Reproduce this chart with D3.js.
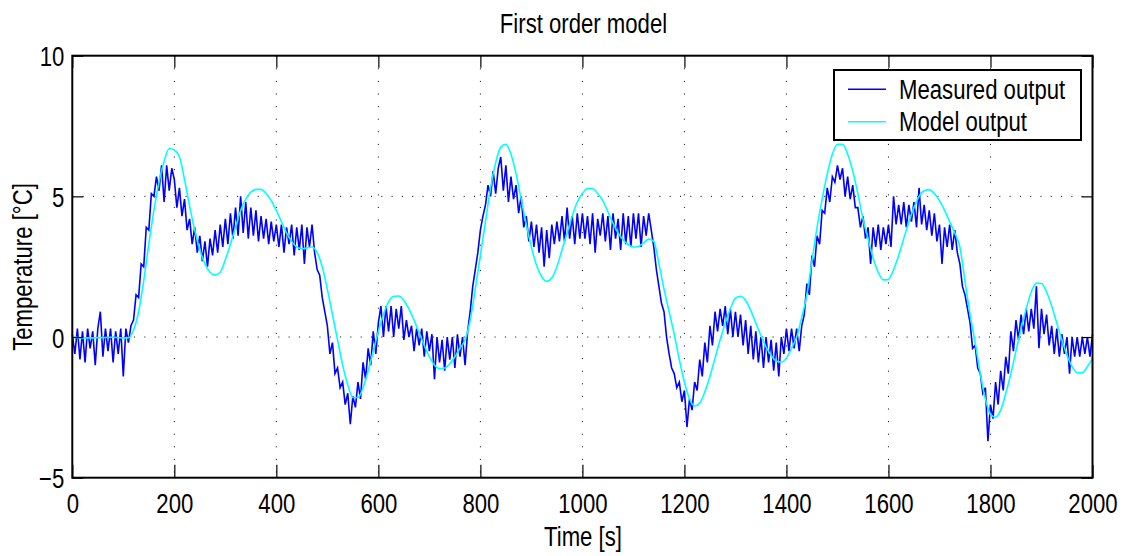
<!DOCTYPE html>
<html>
<head>
<meta charset="utf-8">
<script src="https://cdn.jsdelivr.net/npm/d3@7"></script>
<style>
  body { margin: 0; background: #fff; }
  #vis { width: 1130px; height: 556px; }
  text { font-family: "Liberation Sans", Arial, Helvetica, sans-serif; fill: #000; }
</style>
</head>
<body>
<div id="vis"></div>
<script>
// measured output, one sample every 5 s (0 .. 2000)
var measured = [
  0.1, -0.6, 0.3, -0.8, 0.2, -0.9, 0.3, -0.4, 0.2, -1.0, 0.3, 0.9, -0.7, 0.3, -0.5, 0.3, -0.9, 0.2, -0.6, 0.3,
  -1.4, 0.3, -0.2, 0.4, 0.6, 1.5, 1.4, 2.6, 2.5, 3.9, 3.8, 5.1, 5.0, 5.7, 5.2, 6.1, 4.8, 6.1, 5.2, 6.0,
  5.6, 4.6, 5.3, 4.3, 4.9, 3.8, 4.2, 3.3, 3.9, 3.0, 3.6, 2.7, 3.4, 2.5, 3.5, 2.9, 3.8, 3.0, 4.0, 3.2,
  4.2, 3.3, 4.4, 3.5, 4.6, 3.6, 5.0, 3.7, 4.8, 3.5, 4.6, 3.6, 4.5, 3.4, 4.3, 3.5, 4.2, 3.3, 4.1, 3.4,
  4.0, 3.2, 4.0, 3.0, 3.9, 3.3, 4.0, 2.9, 3.9, 3.1, 4.0, 2.6, 3.9, 3.2, 4.0, 3.0, 2.4, 2.2, 1.4, 0.9,
  0.4, -0.6, -0.2, -1.3, -1.1, -1.8, -1.6, -2.4, -2.0, -3.1, -2.1, -2.5, -1.6, -2.2, -0.9, -1.5, -0.4, -1.0, 0.2, -0.6,
  0.5, 1.1, 0.0, 1.1, 0.2, 1.1, 0.0, 1.0, 0.3, 1.1, -0.1, 0.6, 0.0, 0.4, -0.5, 0.3, -0.3, 0.3, -0.7, 0.2,
  -0.5, 0.1, -1.5, 0.0, -0.9, -0.1, -1.2, 0.0, -0.8, 0.0, -1.1, 0.1, -0.7, 0.0, -1.0, 0.2, 0.9, 1.8, 2.4, 3.0,
  3.8, 4.3, 4.7, 5.4, 5.0, 5.9, 5.1, 6.0, 6.4, 5.2, 6.1, 4.8, 5.7, 4.9, 5.4, 4.4, 5.0, 3.9, 4.3, 3.4,
  4.1, 3.2, 4.0, 3.0, 3.9, 2.5, 3.8, 2.8, 4.0, 3.3, 4.1, 3.4, 4.3, 3.4, 4.6, 3.5, 4.3, 3.3, 4.4, 3.5,
  4.4, 3.5, 4.3, 3.3, 4.4, 3.0, 4.2, 3.6, 4.4, 3.4, 4.3, 3.1, 4.4, 3.5, 4.2, 3.1, 4.4, 3.3, 4.3, 3.2,
  4.4, 3.5, 4.4, 3.2, 4.3, 3.6, 4.4, 3.8, 3.2, 2.4, 1.8, 1.2, 0.9, 0.0, -0.6, -1.1, -1.3, -1.8, -1.6, -2.3,
  -1.9, -3.2, -2.2, -2.6, -1.6, -1.9, -0.8, -1.4, -0.2, -0.9, 0.4, -0.3, 0.9, 0.2, 1.0, 0.4, 1.1, 0.1, 1.0, 0.0,
  0.9, 0.0, 0.8, -0.3, 0.6, -0.6, 0.4, -0.8, 0.2, -0.9, 0.0, -1.1, 0.0, -0.9, -0.1, -1.2, -0.2, -1.4, 0.0, -0.6,
  0.3, -0.5, 0.3, -0.4, 0.3, -0.5, 0.4, 0.8, 1.9, 1.5, 2.9, 2.5, 3.6, 3.3, 4.5, 4.4, 5.3, 4.8, 5.7, 5.5,
  6.1, 5.6, 6.0, 5.0, 5.7, 4.9, 5.4, 4.6, 4.6, 3.9, 4.3, 3.5, 3.9, 2.6, 3.9, 3.2, 4.0, 3.1, 3.9, 3.3,
  4.0, 3.2, 5.0, 4.0, 4.7, 4.0, 4.8, 3.9, 4.7, 4.1, 4.8, 3.9, 5.3, 4.0, 4.7, 3.8, 4.5, 3.6, 4.4, 3.4,
  4.0, 2.6, 3.9, 3.2, 4.0, 3.1, 3.8, 3.0, 2.6, 1.8, 1.5, 1.0, 0.5, -0.4, -0.3, -1.1, -1.3, -2.0, -1.8, -3.7,
  -2.4, -2.9, -1.6, -2.4, -1.2, -1.9, -0.7, -1.3, 0.2, -0.5, 0.6, -0.1, 0.8, 0.1, 1.0, 0.2, 1.0, 0.3, 1.8, -0.4,
  1.0, 0.1, 0.8, -0.3, 0.4, -0.6, 0.3, -0.7, 0.1, -0.6, 0.0, -1.3, 0.0, -0.7, 0.0, -0.7, 0.0, -0.6, 0.0, -0.7,
  0.1
];

// model output, one sample every 10 s (0 .. 2000)
var model = [
  0, -0.02, -0.03, -0.03, -0.03, -0.02, -0.02, -0.01, -0.01, -0.02,
  -0.03, -0.03, 0.25, 0.9, 2.0, 3.3, 4.5, 5.5, 6.25, 6.7,
  6.65, 6.4, 5.6, 4.65, 3.8, 3.1, 2.6, 2.3, 2.2, 2.3,
  2.75, 3.3, 3.9, 4.5, 4.9, 5.15, 5.25, 5.25, 5.1, 4.85,
  4.5, 4.1, 3.7, 3.4, 3.2, 3.14, 3.17, 3.2, 3.0, 2.5,
  1.7, 0.8, -0.1, -1.0, -1.7, -2.15, -2.15, -1.8, -1.2, -0.5,
  0.2, 0.8, 1.25, 1.45, 1.46, 1.3, 1.0, 0.6, 0.15, -0.3,
  -0.7, -1.0, -1.12, -1.1, -0.95, -0.7, -0.4, -0.1, 0.6, 1.7,
  2.9, 4.1, 5.3, 6.2, 6.75, 6.85, 6.5, 5.8, 4.9, 4.0,
  3.2, 2.55, 2.15, 1.98, 2.1, 2.5, 3.1, 3.7, 4.3, 4.8,
  5.1, 5.28, 5.28, 5.1, 4.85, 4.45, 4.05, 3.7, 3.45, 3.28,
  3.2, 3.22, 3.35, 3.48, 3.4, 2.6, 1.7, 0.9, 0.1, -0.8,
  -1.6, -2.2, -2.45, -2.35, -1.95, -1.4, -0.75, -0.1, 0.5, 1.0,
  1.38, 1.45, 1.3, 0.95, 0.5, 0.05, -0.35, -0.65, -0.85, -0.89,
  -0.75, -0.4, 0.0, 0.7, 1.5, 2.7, 3.9, 4.9, 5.8, 6.5,
  6.85, 6.85, 6.5, 5.9, 5.1, 4.2, 3.5, 2.8, 2.3, 2.03,
  2.05, 2.4, 2.9, 3.5, 4.1, 4.6, 5.0, 5.2, 5.24, 5.1,
  4.85, 4.5, 4.1, 3.7, 3.2, 2.0, 0.8, -0.2, -1.3, -2.2,
  -2.75, -2.85, -2.6, -2.0, -1.3, -0.5, 0.3, 1.0, 1.6, 1.92,
  1.9, 1.6, 1.1, 0.5, -0.1, -0.65, -1.05, -1.27, -1.27, -1.05,
  -0.77
];

var measured_dt = 5;
var model_dt = 10;

var x_ticks = [0, 200, 400, 600, 800, 1000, 1200, 1400, 1600, 1800, 2000];
var y_ticks = [-5, 0, 5, 10];

var series_names = ['Measured output', 'Model output'];
var series_colours = ['#0000ff', '#00ffff'];

var width = 1130;
var height = 556;

var margin = {
  top: 55.7,
  bottom: 78.3,
  left: 72.3,
  right: 37.5
};

var font_size = 27;
var squeeze = 0.82;   // narrow helvetica look

var svg = d3.select('#vis')
  .append('svg')
  .attr('width', width)
  .attr('height', height);

var x_scale = d3.scaleLinear()
  .domain([0, 2000])
  .range([margin.left, width - margin.right]);

var y_scale = d3.scaleLinear()
  .domain([-5, 10])
  .range([height - margin.bottom, margin.top]);

function narrow(sel) {
  sel.each(function() {
    var len = this.getComputedTextLength();
    d3.select(this)
      .attr('textLength', len * squeeze)
      .attr('lengthAdjust', 'spacingAndGlyphs');
  });
}

// dotted grid
svg.append('g')
  .attr('class', 'grid')
  .selectAll('line')
  .data(x_ticks.slice(1, -1))
  .enter()
  .append('line')
  .attr('x1', function(d) { return x_scale(d); })
  .attr('x2', function(d) { return x_scale(d); })
  .attr('y1', y_scale(10))
  .attr('y2', y_scale(-5))
  .attr('stroke', '#000')
  .attr('stroke-width', 1)
  .attr('stroke-dasharray', '1,11.6');

svg.append('g')
  .attr('class', 'grid')
  .selectAll('line')
  .data(y_ticks.slice(1, -1))
  .enter()
  .append('line')
  .attr('x1', x_scale(0))
  .attr('x2', x_scale(2000))
  .attr('y1', function(d) { return y_scale(d); })
  .attr('y2', function(d) { return y_scale(d); })
  .attr('stroke', '#000')
  .attr('stroke-width', 1)
  .attr('stroke-dasharray', '1,9.3');

// series
var measured_line = d3.line()
  .x(function(d, i) { return x_scale(i * measured_dt); })
  .y(function(d) { return y_scale(d); });

var model_line = d3.line()
  .x(function(d, i) { return x_scale(i * model_dt); })
  .y(function(d) { return y_scale(d); })
  .curve(d3.curveMonotoneX);

svg.append('path')
  .datum(measured)
  .attr('d', measured_line)
  .attr('fill', 'none')
  .attr('stroke', series_colours[0])
  .attr('stroke-width', 1.6)
  .attr('stroke-linejoin', 'miter');

svg.append('path')
  .datum(model)
  .attr('d', model_line)
  .attr('fill', 'none')
  .attr('stroke', series_colours[1])
  .attr('stroke-width', 1.6);

// axes, ticks inward on all four sides
var x_axis = d3.axisBottom(x_scale)
  .tickValues(x_ticks)
  .tickFormat(d3.format('d'))
  .tickSizeInner(-13)
  .tickSizeOuter(0);

var y_axis = d3.axisLeft(y_scale)
  .tickValues(y_ticks)
  .tickSizeInner(-11)
  .tickSizeOuter(0);

var gx = svg.append('g')
  .attr('class', 'x axis')
  .attr('transform', 'translate(0,' + y_scale(-5) + ')')
  .call(x_axis);

gx.selectAll('text')
  .attr('y', 35)
  .attr('dy', 0)
  .style('font-size', font_size + 'px')
  .style('font-family', '"Liberation Sans", Arial, sans-serif')
  .call(narrow);

var gy = svg.append('g')
  .attr('class', 'y axis')
  .attr('transform', 'translate(' + x_scale(0) + ',0)')
  .call(y_axis);

gy.selectAll('text')
  .attr('x', -8)
  .attr('y', 10)
  .attr('dy', 0)
  .style('font-size', font_size + 'px')
  .style('font-family', '"Liberation Sans", Arial, sans-serif')
  .call(narrow);

svg.append('g')
  .attr('transform', 'translate(0,' + y_scale(10) + ')')
  .call(d3.axisTop(x_scale).tickValues(x_ticks).tickSizeInner(-12).tickSizeOuter(0).tickFormat(''));

svg.append('g')
  .attr('transform', 'translate(' + x_scale(2000) + ',0)')
  .call(d3.axisRight(y_scale).tickValues(y_ticks).tickSizeInner(-11).tickSizeOuter(0).tickFormat(''));

svg.selectAll('.domain').remove();
svg.selectAll('.tick line')
  .attr('stroke', '#000')
  .attr('stroke-width', 1.2);

// frame
svg.append('rect')
  .attr('x', x_scale(0))
  .attr('y', y_scale(10))
  .attr('width', x_scale(2000) - x_scale(0))
  .attr('height', y_scale(-5) - y_scale(10))
  .attr('fill', 'none')
  .attr('stroke', '#000')
  .attr('stroke-width', 2);

// titles
svg.append('text')
  .text('First order model')
  .attr('x', 583.5)
  .attr('y', 33)
  .attr('text-anchor', 'middle')
  .style('font-size', font_size + 'px')
  .call(narrow);

svg.append('text')
  .text('Time [s]')
  .attr('x', 583)
  .attr('y', 546)
  .attr('text-anchor', 'middle')
  .style('font-size', font_size + 'px')
  .call(narrow);

svg.append('text')
  .text('Temperature [°C]')
  .attr('text-anchor', 'middle')
  .attr('transform', 'translate(32,' + 267 + ')rotate(-90)')
  .style('font-size', font_size + 'px')
  .call(narrow);

// legend
var legend = svg.append('g')
  .attr('class', 'legend')
  .attr('transform', 'translate(834,70)');

legend.append('rect')
  .attr('width', 247)
  .attr('height', 70)
  .attr('fill', '#fff')
  .attr('stroke', '#000')
  .attr('stroke-width', 2);

var items = legend.selectAll('.item')
  .data(series_names)
  .enter()
  .append('g')
  .attr('class', 'item')
  .attr('transform', function(d, i) { return 'translate(0,' + (19.3 + i * 32.4) + ')'; });

items.append('line')
  .attr('x1', 14)
  .attr('x2', 52)
  .attr('stroke', function(d, i) { return series_colours[i]; })
  .attr('stroke-width', 1.6);

items.append('text')
  .text(function(d) { return d; })
  .attr('x', 65)
  .attr('y', 9.5)
  .style('font-size', font_size + 'px')
  .call(narrow);
</script>
</body>
</html>
